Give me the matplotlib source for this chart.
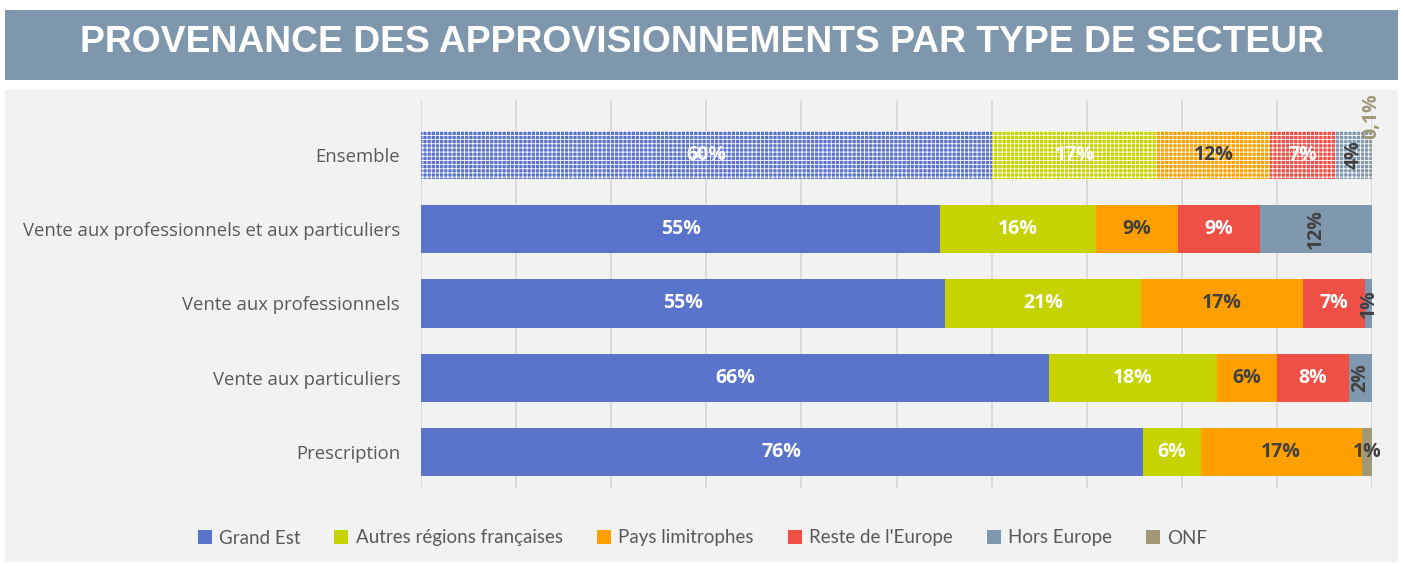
import matplotlib.pyplot as plt
import numpy as np
from matplotlib.patches import Rectangle

# data (percent)
secteurs = ["Ensemble",
            "Vente aux professionnels et aux particuliers",
            "Vente aux professionnels",
            "Vente aux particuliers",
            "Prescription"]
provenances = ["Grand Est", "Autres régions françaises", "Pays limitrophes",
               "Reste de l'Europe", "Hors Europe", "ONF"]
grand_est = [60.0, 54.6, 55.1, 66.0, 75.9]
autres_regions = [17.4, 16.4, 20.6, 17.7, 6.1]
pays_limitrophes = [11.9, 8.6, 17.0, 6.3, 16.9]
reste_europe = [6.9, 8.6, 6.6, 7.6, 0.0]
hors_europe = [3.7, 11.8, 0.7, 2.4, 0.0]
onf = [0.1, 0.0, 0.0, 0.0, 1.1]

series = [grand_est, autres_regions, pays_limitrophes, reste_europe, hors_europe, onf]
colors = ["#5b74cb", "#c6d300", "#ffa000", "#ef5046", "#7f98ae", "#a09877"]
label_colors = ["white", "white", "#404040", "white", "#404040", "#404040"]
label_rot = [0, 0, 0, 0, 90, 0]

plt.rcParams["font.family"] = ["Open Sans", "DejaVu Sans"]
plt.rcParams["hatch.linewidth"] = 0.6

fig = plt.figure(figsize=(14.05, 5.66), dpi=100)
fig.patch.set_facecolor("white")

# title banner and chart panel
fig.patches.append(Rectangle((5 / 1405, 1 - 80 / 566), 1393 / 1405, 70 / 566,
                             transform=fig.transFigure, facecolor="#7f97ad",
                             edgecolor="none", zorder=-10))
fig.patches.append(Rectangle((5 / 1405, 1 - 562 / 566), 1393 / 1405, 472 / 566,
                             transform=fig.transFigure, facecolor="#f2f2f2",
                             edgecolor="none", zorder=-10))
fig.text(0.5, 1 - 42 / 566, "PROVENANCE DES APPROVISIONNEMENTS PAR TYPE DE SECTEUR",
         ha="center", va="center", color="white", fontsize=26.8, fontweight="bold",
         family="Liberation Sans")

ax = fig.add_axes([421 / 1405, 1 - 488 / 566, 951 / 1405, 388 / 566])
ax.set_facecolor("none")

y = np.arange(len(secteurs))
left = np.zeros(len(secteurs))
for i, (vals, name) in enumerate(zip(series, provenances)):
    bars = ax.barh(y, vals, left=left, height=0.65, color=colors[i],
                   edgecolor="none", label=name, zorder=3)
    # the "Ensemble" bar is drawn with a light checker pattern
    bars[0].set_edgecolor("white")
    bars[0].set_linewidth(0)
    bars[0].set_hatch("++++")
    for j, v in enumerate(vals):
        if v <= 0:
            continue
        xc = left[j] + v / 2
        if v < 0.5:
            txt = f"{v:.1f}".replace(".", ",") + "%"
            ax.text(xc, -0.22, txt, rotation=90, ha="center", va="bottom",
                    color="#a09877", fontsize=14, fontweight="bold", zorder=5)
            continue
        ax.text(xc, j, f"{round(v)}%", ha="center", va="center",
                color=label_colors[i], rotation=label_rot[i], fontsize=14,
                fontweight="bold", zorder=5)
    left = left + np.array(vals)

ax.set_xlim(0, 100)
ax.set_ylim(4.485, -0.74)
ax.set_xticks(np.arange(0, 101, 10))
ax.set_xticklabels([])
ax.tick_params(axis="x", length=0)
ax.tick_params(axis="y", length=0, pad=15, labelsize=13.3, labelcolor="#595959")
ax.set_yticks(y)
ax.set_yticklabels(secteurs)
ax.grid(axis="x", color="#d9d9d9", linewidth=1.3, zorder=0)
for s in ax.spines.values():
    s.set_visible(False)

handles = [Rectangle((0, 0), 1, 1, facecolor=c, edgecolor="none") for c in colors]
fig.legend(handles, provenances, loc="center", bbox_to_anchor=(0.5, 1 - 538 / 566),
           ncol=6, frameon=False, prop={"family": "Lato", "size": 13.5},
           labelcolor="#595959", handlelength=0.75, handleheight=0.75,
           handletextpad=0.4, columnspacing=1.8)

fig.savefig("out.png", dpi=100, facecolor="white")
